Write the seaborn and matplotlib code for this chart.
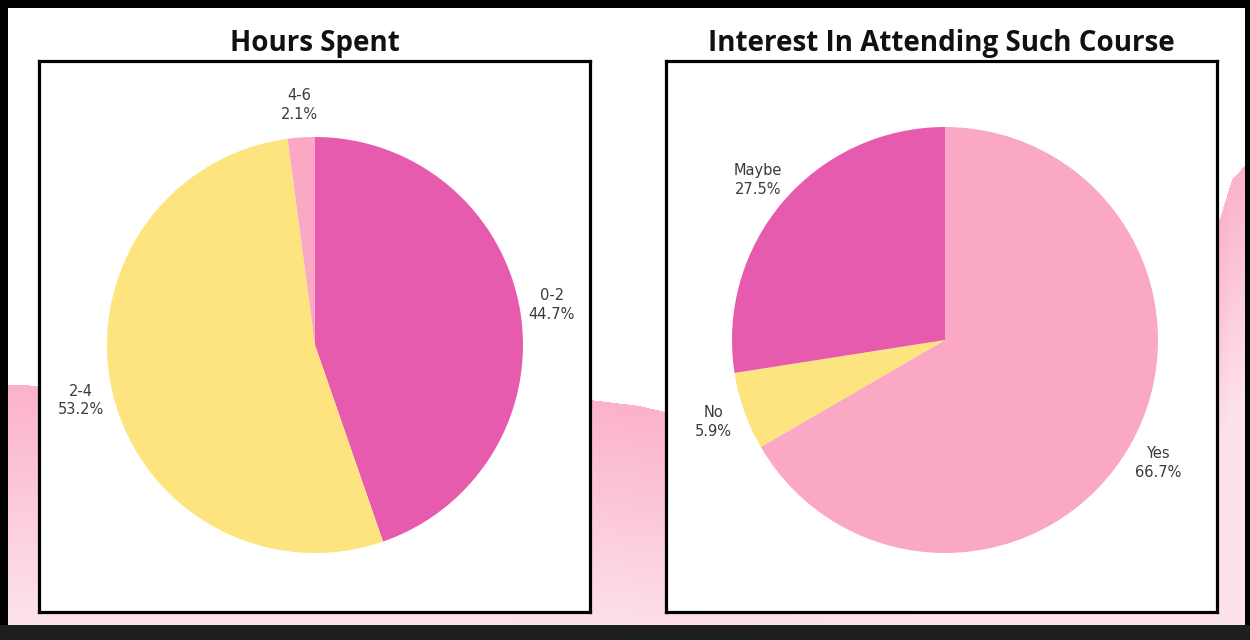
import numpy as np
import matplotlib
matplotlib.use("Agg")
import matplotlib.pyplot as plt
import seaborn as sns
from matplotlib.patches import Rectangle
from matplotlib.colors import to_rgb

# Survey results (percent of respondents)
hours_labels = ["0-2", "2-4", "4-6"]
hours_pct = [44.7, 53.2, 2.1]

interest_labels = ["Yes", "No", "Maybe"]
interest_pct = [66.7, 5.9, 27.5]

MAGENTA = "#E75BAE"
YELLOW = "#FDE47F"
PINK = "#FAA8C3"
hours_colors = [MAGENTA, YELLOW, PINK]
interest_colors = [PINK, YELLOW, MAGENTA]

sns.set_theme(style="white")
plt.rcParams["font.family"] = ["DejaVu Sans"]

W, H = 1250, 640
fig = plt.figure(figsize=(W / 100, H / 100), dpi=100)
fig.patch.set_facecolor("white")

# Decorative backdrop drawn in pixel space: a soft pink wave fading downwards
bg = fig.add_axes([0, 0, 1, 1])
bg.axis("off")
wave_x = [0, 300, 590, 640, 665, 900, 1150, 1218, 1232, 1250]
wave_y = [385, 390, 400, 406, 412, 390, 300, 225, 180, 160]
xs = np.arange(W) + 0.5
ys = np.arange(H)[:, None] + 0.5
top = np.interp(xs, wave_x, wave_y)[None, :]
depth = np.clip((ys - top) / 230.0, 0, 1)
c_top = np.array(to_rgb("#FBB2CA"))
c_bot = np.array(to_rgb("#FDE2EA"))
rgba = np.zeros((H, W, 4))
rgba[..., :3] = c_top + (c_bot - c_top) * depth[..., None]
rgba[..., 3] = (ys >= top).astype(float)
bg.imshow(rgba, extent=[0, W, H, 0], aspect="auto", zorder=0, interpolation="bilinear")
for (x, y, w, h, c) in [(0, 0, W, 8, "black"), (0, 0, 8, H, "black"),
                        (1245, 0, 5, H, "black"), (0, 625, W, 15, "#1E1E1E")]:
    bg.add_patch(Rectangle((x, y), w, h, facecolor=c, edgecolor="none", zorder=2))
bg.set_xlim(0, W)
bg.set_ylim(H, 0)


def pie_panel(rect, center, radius, values, labels, colors, title):
    left, top, right, bottom = rect
    ax = fig.add_axes([left / W, 1 - bottom / H, (right - left) / W, (bottom - top) / H])
    texts_in = [f"{lab}\n{v:.1f}%" for lab, v in zip(labels, values)]
    wedges, texts = ax.pie(values, labels=texts_in, colors=colors, startangle=90,
                           counterclock=False, labeldistance=1.155,
                           wedgeprops=dict(linewidth=0),
                           textprops=dict(fontsize=10.5, color="#3A3A3A", linespacing=1.3))
    cx, cy = center
    ax.set_aspect("auto")
    ax.set_xlim((left - cx) / radius, (right - cx) / radius)
    ax.set_ylim((cy - bottom) / radius, (cy - top) / radius)
    ax.set_facecolor("white")
    ax.set_frame_on(True)
    for sp in ax.spines.values():
        sp.set_visible(True)
        sp.set_color("black")
        sp.set_linewidth(2.3)
    ax.set_xticks([])
    ax.set_yticks([])
    for t in texts:
        t.set_horizontalalignment("center")
        t.set_verticalalignment("center")
    fig.text((left + right) / 2 / W, 1 - 43 / H, title, ha="center", va="center",
             fontsize=20, fontweight="bold", family=["Open Sans", "DejaVu Sans"],
             color="#111111")
    return ax


pie_panel((39, 61, 590, 612), (315, 345), 208, hours_pct, hours_labels,
          hours_colors, "Hours Spent")
pie_panel((666, 61, 1217, 612), (945, 340), 213, interest_pct, interest_labels,
          interest_colors, "Interest In Attending Such Course")

fig.savefig("out.png", dpi=100)
